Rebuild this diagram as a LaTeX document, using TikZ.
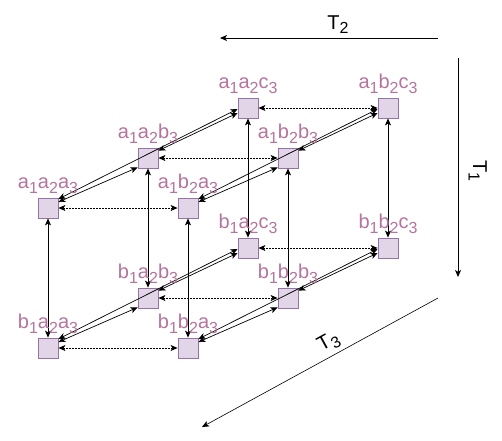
\documentclass[tikz,border=0pt]{standalone}
\usepackage{fontspec}
\setmainfont{Liberation Sans}
\usetikzlibrary{arrows.meta}
\definecolor{boxfill}{HTML}{E1D5E7}
\definecolor{boxdraw}{HTML}{9673A6}
\definecolor{lblcol}{HTML}{B5739D}
\newcommand\sbx[1]{\raisebox{-0.22em}{\fontsize{16}{16}\selectfont #1}}
\begin{document}
\begin{tikzpicture}[x=1pt,y=-1pt,
  >={Stealth[length=7pt,width=6pt,inset=1.8pt]},
  cell/.style={draw=boxdraw, fill=boxfill, minimum size=20pt, inner sep=0pt, line width=0.8pt},
  lbl/.style={text=lblcol, font=\fontsize{20}{24}\selectfont, inner sep=0pt, anchor=base},
  tlbl/.style={text=black, font=\fontsize{20}{24}\selectfont, inner sep=0pt},
  conn/.style={<->, line width=0.8pt},
  hor/.style={conn, dash pattern=on 2pt off 1pt},
  diag/.style={conn, line width=0.7pt},
  axis/.style={->, line width=0.9pt}]
\useasboundingbox (0,0) rectangle (502,440);
% boxes
\node[cell] (aaa) at (48,208) {};
\node[cell] (aba) at (188,208) {};
\node[cell] (aab) at (148,158) {};
\node[cell] (abb) at (288,158) {};
\node[cell] (aac) at (248,108) {};
\node[cell] (abc) at (388,108) {};
\node[cell] (baa) at (48,348) {};
\node[cell] (bba) at (188,348) {};
\node[cell] (bab) at (148,298) {};
\node[cell] (bbb) at (288,298) {};
\node[cell] (bac) at (248,248) {};
\node[cell] (bbc) at (388,248) {};
% horizontal connectors
\foreach \p/\q in {aaa/aba, aab/abb, aac/abc, baa/bba, bab/bbb, bac/bbc}
  \draw[hor] (\p) -- (\q);
% vertical connectors
\foreach \p/\q in {aaa/baa, aba/bba, aab/bab, abb/bbb, aac/bac, abc/bbc}
  \draw[conn] (\p) -- (\q);
% diagonal connectors
\foreach \A/\B/\C in {aaa/aab/aac, aba/abb/abc, baa/bab/bac, bba/bbb/bbc}{
  \draw[diag] ([shift={(0,-9)}]\A.east) -- ([shift={(0,1)}]\C.west);
  \draw[diag] ([shift={(0,-6)}]\A.east) -- ([shift={(0,-1)}]\B.south west);
  \draw[diag] ([shift={(0,3)}]\B.north east) -- ([shift={(0,5)}]\C.west);
}
% labels
\node[lbl] (Laaa) at ([yshift=9pt]aaa.north) {a\sbx{1}a\sbx{2}a\sbx{3}};
\node[lbl] (Laba) at ([yshift=9pt]aba.north) {a\sbx{1}b\sbx{2}a\sbx{3}};
\node[lbl] (Laab) at ([yshift=9pt]aab.north) {a\sbx{1}a\sbx{2}b\sbx{3}};
\node[lbl] (Labb) at ([yshift=9pt]abb.north) {a\sbx{1}b\sbx{2}b\sbx{3}};
\node[lbl] (Laac) at ([yshift=9pt]aac.north) {a\sbx{1}a\sbx{2}c\sbx{3}};
\node[lbl] (Labc) at ([yshift=9pt]abc.north) {a\sbx{1}b\sbx{2}c\sbx{3}};
\node[lbl] (Lbaa) at ([yshift=9pt]baa.north) {b\sbx{1}a\sbx{2}a\sbx{3}};
\node[lbl] (Lbba) at ([yshift=9pt]bba.north) {b\sbx{1}b\sbx{2}a\sbx{3}};
\node[lbl] (Lbab) at ([yshift=9pt]bab.north) {b\sbx{1}a\sbx{2}b\sbx{3}};
\node[lbl] (Lbbb) at ([yshift=9pt]bbb.north) {b\sbx{1}b\sbx{2}b\sbx{3}};
\node[lbl] (Lbac) at ([yshift=9pt]bac.north) {b\sbx{1}a\sbx{2}c\sbx{3}};
\node[lbl] (Lbbc) at ([yshift=9pt]bbc.north) {b\sbx{1}b\sbx{2}c\sbx{3}};
% axes
\coordinate (t2s) at (438,38);
\coordinate (t2e) at (220,38);
\coordinate (t1s) at (458,58);
\coordinate (t1e) at (458,277);
\coordinate (t3s) at (438,298);
\coordinate (t3e) at (202,427);
\draw[axis] (t2s) -- (t2e);
\draw[axis] (t1s) -- (t1e);
\draw[->, line width=0.6pt] (t3s) -- (t3e);
\node[tlbl, anchor=base] (T2) at (338,29) {T\sbx{2}};
\node[tlbl, anchor=base, rotate=-90] (T1) at (473,171) {T\sbx{1}};
\node[tlbl, anchor=base, rotate=28.7] (T3) at (331,346) {T\sbx{3}};
\end{tikzpicture}
\end{document}
